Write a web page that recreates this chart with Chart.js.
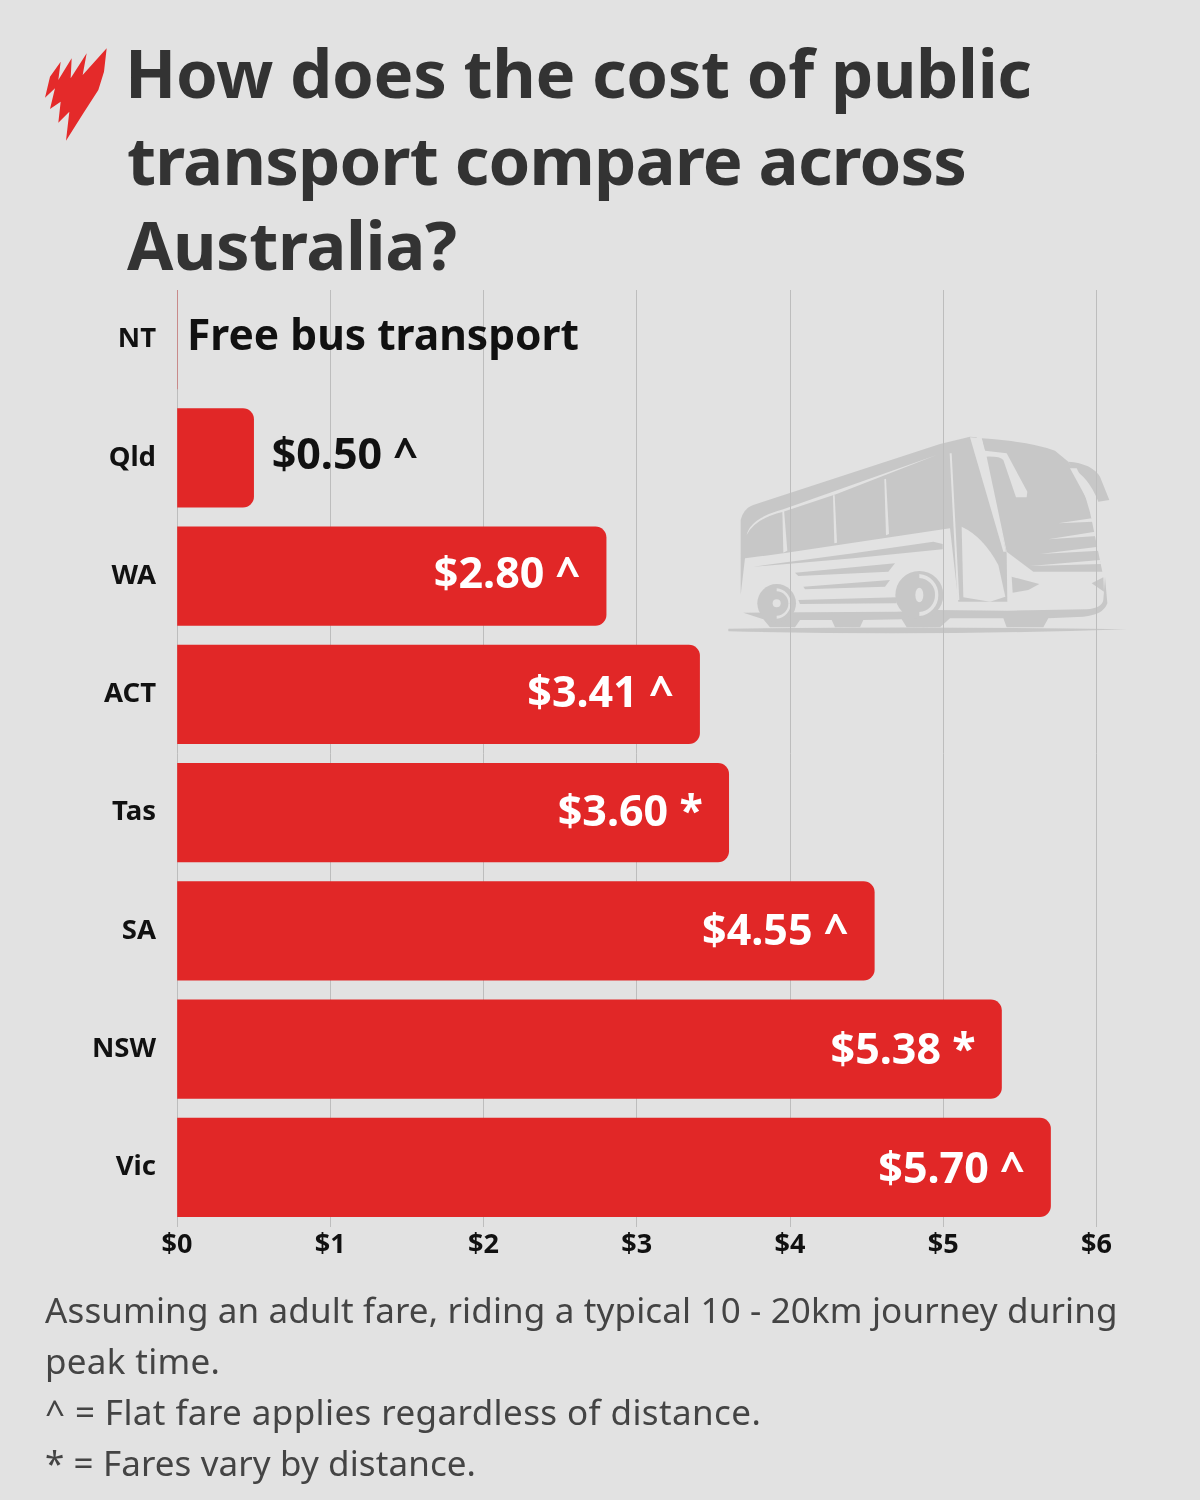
<!DOCTYPE html>
<html><head><meta charset="utf-8">
<style>
html,body{margin:0;padding:0;background:#e2e2e2;}
#wrap{position:relative;width:1200px;height:1500px;overflow:hidden;background:#e2e2e2;font-family:"Noto Sans",sans-serif;}
#bus,#logo{position:absolute;}
#bus{filter:blur(0.5px);}
#c{position:absolute;left:0;top:0;}
.t{position:absolute;left:127px;font-weight:700;font-size:67px;color:#333;white-space:nowrap;line-height:86px;}
.f{position:absolute;left:45px;font-size:35px;color:#444;white-space:nowrap;line-height:51px;}
</style></head><body>
<div id="wrap">
<svg id="bus" style="left:720px;top:420px" width="420" height="225" viewBox="0 0 1260 675">
<g fill="#c7c7c7">
<path d="M62 525 L62 300 Q70 265 100 255 L660 72 L750 50 L770 52 L860 400 L862 545 L715 545 L690 325 L190 400 L75 415 Z"/>
<path d="M785 55 Q930 65 1005 92 L1045 125 Q1095 200 1115 300 L1147 455 L940 455 L860 395 L800 110 Z"/>
<path d="M1045 125 Q1115 130 1140 170 L1168 240 L1135 245 Q1105 170 1055 145 Z"/>
<path d="M70 578 L530 575 L650 570 L860 572 L1100 568 Q1145 565 1150 540 L1155 470 L1162 550 Q1150 585 1090 590 L985 595 L970 622 L860 622 L850 595 L690 595 L660 622 L560 622 L545 598 L430 600 L420 622 L345 622 L335 600 L240 600 L225 622 L150 622 L130 598 Z"/>
<path d="M25 626 Q620 618 1220 628 Q620 648 25 634 Z"/>
<path d="M100 440 L400 400 L640 365 L668 372 L668 388 L400 415 L200 432 Z"/>
<path d="M225 458 L525 430 L505 455 L235 468 Z"/>
<path d="M250 500 L510 480 L495 500 L255 508 Z"/>
<path d="M235 540 L530 532 L530 550 L240 552 Z"/>
<path d="M875 470 L958 492 L925 510 L878 518 Z"/>
<path d="M1115 490 L1150 472 L1152 515 Z"/>
<circle cx="170" cy="550" r="58"/><circle cx="598" cy="525" r="72"/>
</g>
<g fill="#e2e2e2">
<path d="M80 345 Q90 295 190 268 L650 105 L350 222 L190 275 Q105 295 80 345 Z"/>
<path d="M187 270 L192 270 L202 392 L190 398 Z"/>
<path d="M339 226 L344 226 L351 368 L343 370 Z"/>
<path d="M493 178 L498 176 L507 342 L498 346 Z"/>
<path d="M689 100 L695 100 L718 540 L712 540 Z"/>
<path d="M725 320 Q790 350 835 435 L856 530 L810 545 L730 532 Z"/>
<path d="M750 52 L785 55 L858 395 L850 395 Z"/>
<path d="M795 92 L860 100 L922 215 L920 232 L888 232 L850 120 Q840 108 795 110 Z"/>
<path d="M1050 145 L1070 145 L1122 250 L1110 255 Z"/>
<path d="M1015 310 L1115 295 L1118 305 Z"/>
<path d="M985 358 L1125 335 L1130 348 Z"/>
<path d="M960 402 L1135 380 L1138 392 Z"/>
<path d="M930 438 L1140 420 L1143 432 Z"/>
<path d="M170 505 A45 45 0 0 1 212 550 L205 550 A36 36 0 0 0 170 514 Z"/>
<path d="M170 596 A45 45 0 0 0 212 550 L205 550 A36 36 0 0 1 170 587 Z"/>
<circle cx="170" cy="550" r="12"/>
<path d="M598 462 A62 62 0 0 1 655 525 L645 525 A50 50 0 0 0 598 474 Z"/>
<path d="M598 588 A62 62 0 0 0 655 525 L645 525 A50 50 0 0 1 598 576 Z"/>
<ellipse cx="598" cy="525" rx="12" ry="22"/>
</g>
</svg>
<canvas id="c" width="1200" height="1500"></canvas>
<svg id="logo" style="left:30px;top:30px" width="100" height="120" viewBox="0 0 300 360">
<path fill="#e42a2a" d="M230 55 L222 125 L205 180 L160 250 L108 332 L118 245 L85 278 L92 215 L60 237 L75 175 L45 203 L60 140 L92 95 L85 150 L125 85 L122 145 L170 70 L158 135 Z"/>
</svg>
<div class="t" style="top:29px;left:125px;letter-spacing:-0.37px">How does the cost of public</div>
<div class="t" style="top:116px;letter-spacing:-0.8px">transport compare across</div>
<div class="t" style="top:201px;letter-spacing:-0.4px">Australia?</div>
<div class="f" style="top:1284px;letter-spacing:0.14px">Assuming an adult fare, riding a typical 10 - 20km journey during</div>
<div class="f" style="top:1335px;letter-spacing:0.3px">peak time.</div>
<div class="f" style="top:1386px;letter-spacing:0.4px">^ = Flat fare applies regardless of distance.</div>
<div class="f" style="top:1437px;letter-spacing:0.1px">* = Fares vary by distance.</div>
</div>
<script src="https://cdn.jsdelivr.net/npm/chart.js@4"></script>
<script>
const categories = ["NT","Qld","WA","ACT","Tas","SA","NSW","Vic"];
const fares = [0,0.5,2.8,3.41,3.6,4.55,5.38,5.7];
const valueLabels = ["Free bus transport","$0.50 ^","$2.80 ^","$3.41 ^","$3.60 *","$4.55 ^","$5.38 *","$5.70 ^"];
const xTicks = [0,1,2,3,4,5,6];

const FONT = '"Noto Sans", sans-serif';
const valuePlugin = {
  id:'valueLabels',
  afterDatasetsDraw(chart){
    const {ctx,scales:{x,y}} = chart;
    ctx.save();
    ctx.textBaseline='middle';
    fares.forEach((v,i)=>{
      const py = y.getPixelForValue(i) - 1.2 + 0.7*(i-1);
      const px = x.getPixelForValue(v);
      if(v===0){
        ctx.font='700 42.5px '+FONT; ctx.fillStyle='#111'; ctx.textAlign='left';
        ctx.fillText(valueLabels[i],px+10,py);
      } else if(v<1){
        ctx.font='700 43px '+FONT; ctx.fillStyle='#111'; ctx.textAlign='left';
        ctx.fillText(valueLabels[i],px+18,py);
      } else {
        ctx.font='700 43px '+FONT; ctx.fillStyle='#fff'; ctx.textAlign='right';
        ctx.fillText(valueLabels[i],px-26,py);
      }
    });
    ctx.restore();
  }
};
const gridTrim = {
  id:'gridTrim',
  beforeDatasetsDraw(chart){
    const {ctx,chartArea:a} = chart;
    ctx.save(); ctx.fillStyle='#e2e2e2';
    ctx.fillRect(a.left-2,a.top-1,a.width+4,10.5);
    ctx.restore();
  }
};
new Chart(document.getElementById('c'),{
  type:'bar',
  data:{labels:categories,datasets:[{
    data:fares,
    backgroundColor:'#e12727',
    borderWidth:0,
    barThickness:98.5,
    borderSkipped:false,
    borderRadius:{topLeft:0,bottomLeft:0,topRight:11,bottomRight:11}
  }]},
  options:{
    indexAxis:'y',
    responsive:false,
    animation:false,
    devicePixelRatio:1,
    layout:{padding:{top:280.5,right:103.5,left:0,bottom:0}},
    plugins:{legend:{display:false},title:{display:false},tooltip:{enabled:false}},
    scales:{
      x:{
        type:'linear',min:0,max:6,
        afterBuildTicks(s){ s.ticks = xTicks.map(v=>({value:v})); },
        afterFit(s){ s.height=273.5; },
        grid:{color:'#bdbdbd',lineWidth:1,drawTicks:false},
        border:{display:false},
        ticks:{padding:3,color:'#111',font:{family:FONT,size:27,weight:'700'},maxRotation:0,callback:v=>'$'+v}
      },
      y:{
        afterFit(s){ s.width=177; },
        grid:{display:false,drawTicks:false},
        border:{display:false},
        ticks:{padding:21,color:'#111',font:{family:FONT,size:27.5,weight:'700'}}
      }
    }
  },
  plugins:[gridTrim,valuePlugin]
});
</script>
</body></html>
